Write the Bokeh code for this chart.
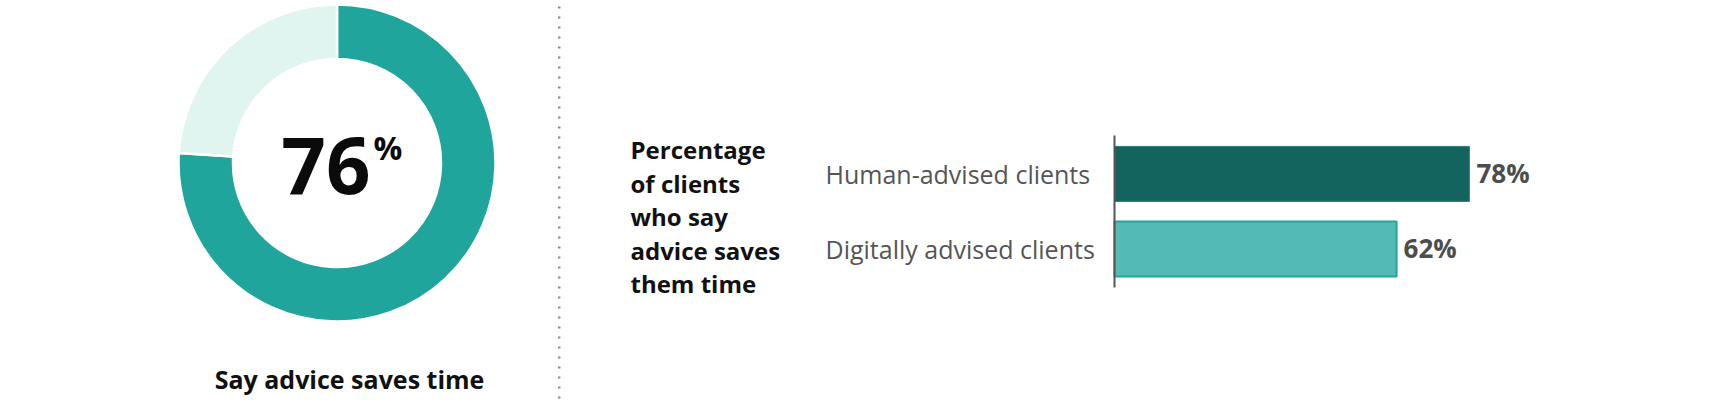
import numpy as np
from bokeh.plotting import figure
from bokeh.models import Range1d
from bokeh.core.properties import value
from bokeh.embed import file_html
from bokeh.resources import INLINE

# ---------------- data ----------------
donut_parts = ["Say advice saves time", "Do not"]
donut_values = [76, 24]
donut_colors = ["#1FA59C", "#E0F5EF"]
donut_caption = "Say advice saves time"

bar_title_lines = ["Percentage", "of clients", "who say", "advice saves", "them time"]
bar_categories = ["Human-advised clients", "Digitally advised clients"]
bar_values = [78, 62]
bar_fill = ["#13635F", "#53BAB5"]
bar_edge = ["#2E7C77", "#22A69C"]
bar_edge_width = [1, 2]

# ---------------- layout ----------------
W, H = 1712, 404
FONT = value("Open Sans")


def Y(page_y):
    # page pixel y (from top of window) -> data y
    return H - page_y


p = figure(width=W, height=H, x_range=Range1d(0, W), y_range=Range1d(0, H),
           output_backend="svg", toolbar_location=None, min_border=0)
p.axis.visible = False
p.grid.visible = False
p.outline_line_color = None
p.background_fill_color = "white"
p.border_fill_color = "white"

# ---------------- donut ----------------
cx, cy = 336.5, Y(162.5)
frac = np.cumsum([0] + donut_values) / float(sum(donut_values))
starts = np.pi / 2 - 2 * np.pi * frac[:-1]
ends = np.pi / 2 - 2 * np.pi * frac[1:]
p.annular_wedge(x=[cx] * len(donut_values), y=[cy] * len(donut_values),
                inner_radius=104, outer_radius=158.5,
                inner_radius_units="screen", outer_radius_units="screen",
                start_angle=list(starts), end_angle=list(ends), direction="clock",
                fill_color=donut_colors, line_color="white", line_width=2.5)

p.text(x=[370], y=[Y(165)], text=[str(donut_values[0])], text_font=FONT,
       text_font_style="bold", text_font_size="78px", text_color="#0b0b0b",
       text_align="right", text_baseline="middle")
p.text(x=[373], y=[Y(146.5)], text=["%"], text_font=FONT,
       text_font_style="bold", text_font_size="32px", text_color="#0b0b0b",
       text_align="left", text_baseline="middle")
p.text(x=[349], y=[Y(378.8)], text=[donut_caption], text_font=FONT,
       text_font_style="bold", text_font_size="25px", text_color="#111111",
       text_align="center", text_baseline="middle")

# ---------------- divider ----------------
p.segment(x0=[558.7], y0=[Y(398)], x1=[558.7], y1=[Y(0)],
          line_color="#8a8a8a", line_width=2.5, line_dash="2 8")

# ---------------- bar title ----------------
p.text(x=[630] * len(bar_title_lines),
       y=[Y(149.2 + 33.5 * i) for i in range(len(bar_title_lines))],
       text=bar_title_lines, text_font=FONT, text_font_style="bold",
       text_font_size="24px", text_color="#111111",
       text_align="left", text_baseline="middle")

# ---------------- bars ----------------
px_per_pct = 4.55
zero_x = 1114.0
row0_y, row_step = 173.4, 75.1
p.extra_x_ranges = {"pct": Range1d((0 - zero_x) / px_per_pct, (W - zero_x) / px_per_pct)}
p.extra_y_ranges = {"cat": Range1d((H - row0_y) / row_step, (0 - row0_y) / row_step)}

idx = list(range(len(bar_categories)))
p.hbar(y=idx, left=0, right=bar_values, height=55 / row_step,
       fill_color=bar_fill, line_color=bar_edge, line_width=bar_edge_width,
       x_range_name="pct", y_range_name="cat")

# axis line
p.segment(x0=[0], y0=[-0.512], x1=[0], y1=[len(idx) - 1 + 0.512],
          line_color="#555555", line_width=2,
          x_range_name="pct", y_range_name="cat")

# category labels
p.text(x=[0] * len(idx), y=idx, text=bar_categories, x_offset=-289, y_offset=0,
       text_font=FONT, text_font_size="25px", text_color="#555555",
       text_align="left", text_baseline="middle",
       x_range_name="pct", y_range_name="cat")

# value labels
p.text(x=bar_values, y=idx, text=[f"{v}%" for v in bar_values], x_offset=7, y_offset=-1,
       text_font=FONT, text_font_style="bold", text_font_size="26px", text_color="#4d4d4d",
       text_align="left", text_baseline="middle",
       x_range_name="pct", y_range_name="cat")

open("out.html", "w").write(file_html(p, INLINE))
